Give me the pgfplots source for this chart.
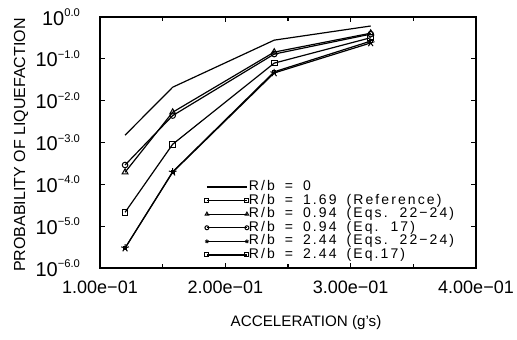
\documentclass[border=0pt]{standalone}
\usepackage{fontspec}
\setmainfont{Liberation Sans}
\newfontfamily\legfont[LetterSpace=15]{Liberation Sans}
\usepackage{pgfplots}
\pgfplotsset{compat=1.18}
\newcommand{\sexp}[1]{10\raisebox{0.8ex}{\fontsize{5.6}{6}\selectfont #1}}
\newcommand{\legsetup}{\legfont\fontsize{7}{7}\selectfont\spaceskip=5pt\relax}
\begin{document}
\begin{tikzpicture}
\begin{axis}[
  scale only axis, width=188pt, height=125.5pt,
  xmin=0.1, xmax=0.4, ymode=log, ymin=1e-6, ymax=1,
  axis line style={line width=0.8pt},
  tick align=inside, major tick length=2.5pt, minor tick length=2pt,
  tick style={black, line width=0.6pt},
  xtick={0.1,0.2,0.3,0.4}, minor xtick={0.15,0.25,0.35},
  xticklabels={1.00e−01,2.00e−01,3.00e−01,4.00e−01},
  ytick={1e-6,1e-5,1e-4,1e-3,1e-2,1e-1,1},
  yticklabels={\sexp{−6.0},\sexp{−5.0},\sexp{−4.0},\sexp{−3.0},\sexp{−2.0},\sexp{−1.0},\sexp{0.0}},
  yminorticks=false,
  xticklabel style={font=\fontsize{9}{10}\selectfont, yshift=-3pt},
  yticklabel style={font=\fontsize{10}{11}\selectfont, xshift=-6.5pt},
  xlabel={ACCELERATION (g's)},
  ylabel={PROBABILITY OF LIQUEFACTION},
  xlabel style={font=\fontsize{7.6}{9}\selectfont, at={(axis description cs:0.548,-0.219)}, anchor=center},
  ylabel style={font=\fontsize{8}{9}\selectfont, at={(axis description cs:-0.21,0.49)}, anchor=center, rotate=0},
  legend cell align=left,
  legend style={draw=none, fill=none, inner sep=0pt, outer sep=0pt,
    at={(axis description cs:0.279,0.35)}, anchor=north west,
    font=\legsetup,
    nodes={inner sep=0pt, text height=5.2pt, text depth=1.6pt},
    /tikz/every even column/.append style={column sep=2.5pt}},
  legend image code/.code={\draw[#1,mark size=1pt] plot coordinates {(0pt,0pt) (20pt,0pt)};},
  every axis plot/.append style={black, line width=0.6pt, mark options={solid, line width=0.5pt, fill=white}},
]
\addplot[no marks] coordinates {(0.12,1.5e-3) (0.158,0.021) (0.239,0.28) (0.316,0.61)};
\addlegendentry{R/b = 0}
\addplot[mark=square, mark size=1.4pt] coordinates {(0.12,2.15e-5) (0.158,9.1e-4) (0.239,0.079) (0.316,0.32)};
\addlegendentry{R/b = 1.69 (Reference)}
\addplot[mark=triangle, mark size=1.7pt] coordinates {(0.12,1.95e-4) (0.158,5.3e-3) (0.239,0.145) (0.316,0.41)};
\addlegendentry{R/b = 0.94 (Eqs. 22−24)}
\addplot[mark=o, mark size=1.4pt] coordinates {(0.12,2.9e-4) (0.158,4.4e-3) (0.239,0.13) (0.316,0.39)};
\addlegendentry{R/b = 0.94 (Eq. 17)}
\addplot[mark=star, mark size=2pt] coordinates {(0.12,3.0e-6) (0.158,1.95e-4) (0.239,0.046) (0.316,0.24)};
\addlegendentry{R/b = 2.44 (Eqs. 22−24)}
\addplot[mark=square, mark size=0.7pt] coordinates {(0.12,3.0e-6) (0.158,2.0e-4) (0.239,0.049) (0.316,0.265)};
\addlegendentry{R/b = 2.44 (Eq.17)}
\end{axis}
\pgfresetboundingbox
\path[use as bounding box] (-50pt,-35.5pt) rectangle (208.5pt,134pt);
\end{tikzpicture}
\end{document}
